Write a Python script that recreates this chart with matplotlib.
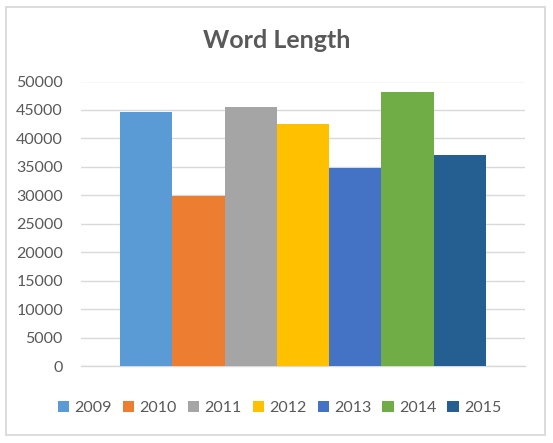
import matplotlib
matplotlib.use("Agg")
import matplotlib.pyplot as plt
from matplotlib.patches import Rectangle, Patch

years = ["2009", "2010", "2011", "2012", "2013", "2014", "2015"]
values = [44600, 29800, 45500, 42600, 34800, 48200, 37000]
colors = ["#5b9bd5", "#ed7d31", "#a5a5a5", "#ffc000", "#4472c4", "#70ad47", "#255e91"]
title = "Word Length"
yticks = [0, 5000, 10000, 15000, 20000, 25000, 30000, 35000, 40000, 45000, 50000]

plt.rcParams['font.family'] = ['Lato', 'DejaVu Sans']
W, H = 553, 443
fig = plt.figure(figsize=(W / 100, H / 100), dpi=100)

# chart border
fig.patches.append(Rectangle((5.5 / W, (H - 435) / H), 539.5 / W, 428 / H,
                             transform=fig.transFigure, fill=False,
                             edgecolor="#d9d9d9", linewidth=1.3))

ax = fig.add_axes([81 / W, (H - 366) / H, 444 / W, (366 - 81.5) / H])
n = len(years)
group = 366 / 444
w = group / n
for i, (yr, v, c) in enumerate(zip(years, values, colors)):
    ax.bar((i - (n - 1) / 2) * w, v, width=w, color=c, zorder=3, label=yr)

ax.set_xlim(-0.5, 0.5)
ax.set_ylim(0, 50000)
ax.set_yticks(yticks)
ax.set_yticklabels([str(t) for t in yticks], fontsize=11.5, color="#595959")
ax.set_xticks([])
ax.tick_params(axis='y', length=0, pad=13)
ax.grid(axis='y', color="#d9d9d9", linewidth=1.0, zorder=0)
for s in ["top", "right", "left"]:
    ax.spines[s].set_visible(False)
ax.spines["bottom"].set_color("#d9d9d9")
ax.spines["bottom"].set_linewidth(1.0)

fig.text(276.5 / W, 1 - 41 / H, title, ha="center", va="center",
         fontsize=18, fontweight="bold", color="#595959")

handles = [Patch(facecolor=c, edgecolor="none") for c in colors]
fig.legend(handles, years, loc="center", bbox_to_anchor=(279.5 / W, 1 - 408 / H),
           ncol=n, frameon=False, fontsize=11.5, labelcolor="#595959",
           handlelength=0.7, handleheight=0.7, handletextpad=0.35,
           columnspacing=0.68)

fig.savefig("out.png", dpi=100)
